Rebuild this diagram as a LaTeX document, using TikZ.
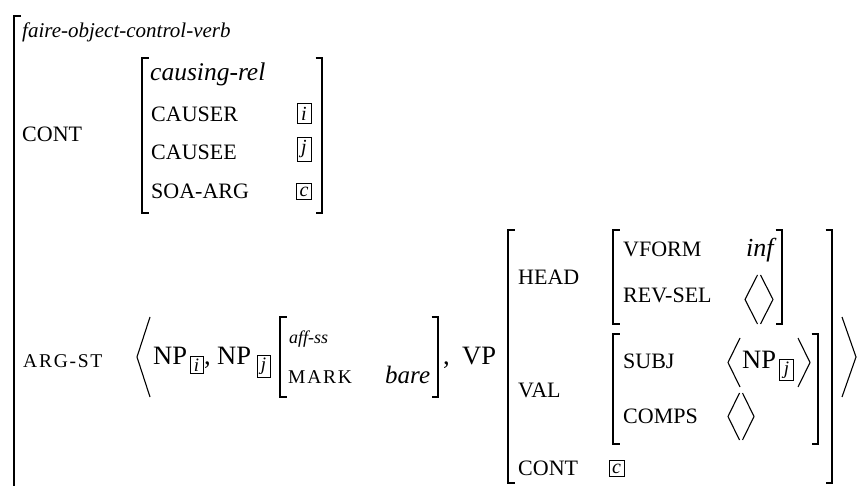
\documentclass[tikz,border=0pt]{standalone}
\usepackage{fontspec}
\setmainfont{Liberation Serif}
\newfontfamily\spacedfont[LetterSpace=9]{Liberation Serif}
\newcommand\avmLB[3]{\draw[brk] ({#1+6.5},#2) -- (#1,#2) -- (#1,#3) -- ({#1+6.5},#3);}
\newcommand\avmRB[3]{\draw[brk] ({#1-6.5},#2) -- (#1,#2) -- (#1,#3) -- ({#1-6.5},#3);}
\newcommand\avmLA[4]{\draw[ang] ({#1+#3},#2) -- (#1,{(#2+#4)/2}) -- ({#1+#3},#4);}
\newcommand\avmRA[4]{\draw[ang] ({#1-#3},#2) -- (#1,{(#2+#4)/2}) -- ({#1-#3},#4);}
\begin{document}
\begin{tikzpicture}[x=1pt,y=-1pt,
  txt/.style={inner sep=0pt, anchor=base west},
  lab/.style={txt, font=\fontsize{22}{24}\selectfont},
  slab/.style={txt, font=\spacedfont\fontsize{19.5}{22}\selectfont},
  typ/.style={txt, font=\itshape\fontsize{21}{24}\selectfont},
  big/.style={txt, font=\fontsize{26.5}{30}\selectfont},
  val/.style={txt, font=\itshape\fontsize{25}{28}\selectfont},
  tag/.style={draw, line width=0.8pt, inner xsep=3pt, inner ysep=3pt, minimum width=14pt, font=\itshape\fontsize{20}{22}\selectfont},
  brk/.style={line width=1.4pt},
  ang/.style={line width=1.1pt, line join=miter}]
\useasboundingbox (0,0) rectangle (857,486);
% outer bracket
\draw[brk] (21,16) -- (14,16) -- (14,490);
\node[typ] (type) at (22,37.5) {faire-object-control-verb};
% CONT
\node[lab] (cont) at (22,142) {CONT};
\avmLB{142}{58}{213}
\avmRB{322}{58}{213}
\node[val, font=\itshape\fontsize{25.5}{28}\selectfont] (crel) at (150,81) {causing-rel};
\node[lab] (causer) at (151,121.5) {CAUSER};
\node[lab] (causee) at (151,160) {CAUSEE};
\node[lab] (soa) at (151,199) {SOA-ARG};
\node[tag] (ti) at (304,113.5) {i};
\node[tag] (tj) at (304,149.5) {j};
\node[tag] (tc) at (304,191.5) {c};
% ARG-ST
\node[slab] (argst) at (23,367) {ARG-ST};
\avmLA{137}{317}{13}{397}
\node[big] (np1) at (153,365) {NP};
\node[tag, font=\itshape\fontsize{19}{20}\selectfont, inner ysep=2.5pt, minimum width=13pt] (np1t) at (196.5,365) {i};
\node[big] (c1) at (204,365) {,};
\node[big] (np2) at (217,365) {NP};
\node[tag, font=\itshape\fontsize{19}{20}\selectfont, inner ysep=2.5pt, minimum width=13pt] (np2t) at (263.5,366.5) {j};
\avmLB{280}{317}{397}
\avmRB{438}{317}{397}
\node[typ, font=\itshape\fontsize{18}{20}\selectfont] (aff) at (289,344) {aff-ss};
\node[slab] (mark) at (288,383) {MARK};
\node[val] (bare) at (385,383) {bare};
\node[big] (c2) at (443,364) {,};
\node[big] (vp) at (462,364) {VP};
% VP AVM
\avmLB{508}{230}{483}
\avmRB{832}{230}{483}
\node[lab] (head) at (518,285) {HEAD};
\node[lab] (val) at (518,397) {VAL};
\node[lab] (cont2) at (518,475) {CONT};
\avmLB{613}{230}{324}
\avmRB{782}{230}{324}
\node[lab] (vform) at (623,257) {VFORM};
\node[val, font=\itshape\fontsize{26}{28}\selectfont] (inf) at (746,257) {inf};
\node[lab] (revsel) at (623,303) {REV-SEL};
\avmLA{745}{275}{12.5}{324}
\avmRA{773}{275}{12.5}{324}
\avmLB{613}{334}{444}
\avmRB{818}{334}{444}
\node[lab] (subj) at (623,369) {SUBJ};
\avmLA{728}{338}{12}{387}
\node[big] (np3) at (742,369) {NP};
\node[tag, font=\itshape\fontsize{19}{20}\selectfont, inner ysep=2.5pt] (np3t) at (786.5,370) {j};
\avmRA{810}{338}{12}{387}
\node[lab] (comps) at (623,423) {COMPS};
\avmLA{728}{393}{11.5}{440}
\avmRA{754}{393}{11.5}{440}
\node[tag] (tc2) at (616.5,468.5) {c};
\avmRA{856}{317}{14}{397}
\end{tikzpicture}
\end{document}
